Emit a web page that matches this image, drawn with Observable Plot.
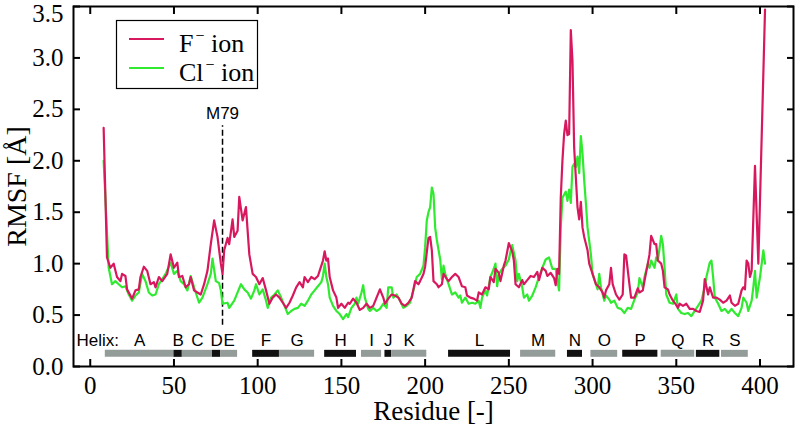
<!DOCTYPE html>
<html>
<head>
<meta charset="utf-8">
<script src="https://cdn.jsdelivr.net/npm/d3@7"></script>
<script src="https://cdn.jsdelivr.net/npm/@observablehq/plot@0.6"></script>
<style>
  body { margin: 0; background: #fff; }
</style>
</head>
<body>
<div id="chart"></div>
<script>
// RMSF per residue, F- ion simulation
const fResidue = [8,10,12,14,16,18,19,21,22,25,27,29,30,32,34,36,38,39,41,43,46,48,50,52,53,55,57,59,60,62,64,66,68,70,72,74,76,77,78,79,80,82,83,85,86,88,89,91,93,95,97,99,
  101,103,105,107,109,111,113,115,117,119,121,123,125,127,128,130,132,134,136,137,139,140,141,142,143,145,147,148,150,152,154,155,157,159,161,163,165,167,169,171,173,175,176,178,180,182,184,186,188,190,192,194,196,197,199,200,
  202,203,204,205,207,208,210,211,213,214,216,218,220,222,224,225,227,229,231,232,234,236,238,239,241,242,244,245,247,248,250,252,253,254,256,258,259,261,263,265,267,268,270,272,273,275,277,278,279,280,
  281,282,283,284,285,286,287,288,289,290,291,292,293,294,295,297,298,300,302,304,306,307,308,310,311,312,314,316,318,319,320,322,323,325,327,328,330,331,333,334,335,337,338,339,341,342,343,345,346,348,349,351,352,354,356,358,360,362,364,366,367,369,370,372,374,376,378,380,382,383,385,387,389,390,391,392,393,394,395,397,399,403];
const fRmsf = [2.32,1.06,0.96,1.00,0.87,0.83,0.90,0.88,0.75,0.66,0.74,0.75,0.87,0.97,0.93,0.80,0.82,0.77,0.87,0.83,0.90,1.09,0.96,1.01,0.87,0.88,0.77,0.80,0.87,0.74,0.72,0.70,0.80,0.93,1.19,1.42,1.26,1.13,1.00,0.90,1.13,1.25,1.19,1.43,1.26,1.32,1.65,1.42,1.55,1.09,0.90,0.87,
  0.80,0.86,0.74,0.61,0.67,0.70,0.67,0.62,0.57,0.62,0.69,0.77,0.82,0.77,0.87,0.82,0.87,0.85,0.88,0.93,1.03,1.12,1.03,1.05,0.87,0.74,0.67,0.57,0.61,0.57,0.62,0.61,0.66,0.62,0.55,0.57,0.61,0.57,0.59,0.67,0.75,0.67,0.61,0.66,0.70,0.69,0.67,0.61,0.59,0.62,0.67,0.83,0.80,0.83,0.90,0.97,
  1.25,1.26,1.13,0.83,0.80,0.77,0.80,0.90,0.85,0.83,0.87,0.90,0.87,0.78,0.77,0.69,0.67,0.66,0.64,0.72,0.70,0.77,0.75,0.87,0.82,0.95,0.91,0.83,0.98,1.03,1.20,1.12,1.03,0.80,0.77,0.84,0.80,0.84,0.88,0.87,0.92,0.84,0.96,0.93,0.88,0.91,0.86,0.79,0.95,0.90,
  1.64,2.00,2.26,2.39,2.25,2.26,3.27,2.97,2.13,1.84,1.55,1.43,1.60,1.35,1.26,1.13,1.00,0.90,0.80,0.77,0.72,0.67,0.74,0.80,0.96,0.80,0.70,0.65,0.70,1.09,1.08,0.80,0.67,0.67,0.76,0.72,0.74,0.83,1.00,1.09,1.27,1.19,1.19,1.03,1.00,0.93,0.77,0.75,0.70,0.64,0.62,0.57,0.61,0.59,0.61,0.56,0.56,0.54,0.53,0.64,0.85,0.70,0.77,0.67,0.67,0.65,0.62,0.64,0.69,0.62,0.59,0.61,0.74,0.77,0.75,1.03,1.00,0.87,0.93,1.95,1.00,3.47];

// RMSF per residue, Cl- ion simulation
const clResidue = [8,11,13,15,17,19,21,23,25,27,29,31,33,35,37,39,41,43,45,48,50,52,54,56,58,60,62,65,67,70,72,73,75,77,78,79,82,83,86,88,90,92,94,96,98,99,
  101,103,105,106,108,110,112,114,116,118,120,122,124,126,128,130,132,134,136,138,139,140,141,142,143,145,147,149,151,153,154,156,158,159,160,162,163,164,166,167,169,171,173,175,177,178,180,181,183,185,187,189,191,193,195,197,199,200,
  201,202,203,204,205,206,207,209,210,211,212,214,216,218,220,221,222,224,226,228,230,232,233,234,236,237,239,241,242,243,244,246,248,250,251,252,254,255,256,258,259,261,262,264,266,268,270,272,274,276,278,279,280,
  281,282,283,284,285,286,287,288,289,290,291,292,293,294,295,296,297,299,300,302,303,304,305,307,308,310,311,313,315,317,319,321,323,325,327,328,330,331,333,334,335,337,338,339,341,342,343,344,346,348,350,351,353,355,357,359,361,363,365,367,368,370,371,372,373,375,377,379,381,383,385,387,389,390,392,393,395,396,397,398,399,400,401,402,403];
const clRmsf = [2.00,0.96,0.80,0.83,0.80,0.77,0.78,0.70,0.64,0.69,0.72,0.90,0.83,0.72,0.69,0.70,0.80,0.85,0.90,1.01,0.90,0.93,0.83,0.80,0.74,0.88,0.77,0.62,0.67,0.80,0.90,1.05,0.83,0.81,0.74,0.61,0.62,0.57,0.64,0.72,0.80,0.75,0.72,0.66,0.74,0.80,
  0.70,0.75,0.64,0.57,0.67,0.70,0.74,0.67,0.59,0.51,0.54,0.56,0.57,0.61,0.59,0.64,0.70,0.74,0.78,0.82,0.88,1.00,0.87,0.80,0.67,0.59,0.54,0.51,0.46,0.51,0.48,0.57,0.61,0.67,0.61,0.72,0.79,0.67,0.56,0.54,0.57,0.54,0.56,0.61,0.57,0.77,0.77,0.67,0.70,0.64,0.57,0.59,0.62,0.74,0.87,0.90,0.98,1.16,
  1.42,1.50,1.55,1.74,1.68,1.35,1.23,1.04,0.85,0.98,0.90,0.80,0.70,0.72,0.67,0.69,0.62,0.67,0.61,0.62,0.61,0.64,0.57,0.67,0.74,0.69,0.87,0.95,1.00,0.78,0.90,0.95,0.98,1.04,1.12,1.18,1.03,0.83,0.90,0.77,0.67,0.70,0.64,0.69,0.77,0.87,0.96,1.04,1.06,0.95,0.95,0.83,0.74,
  1.35,1.64,1.67,1.70,1.61,1.72,1.59,1.94,1.97,1.94,2.04,1.88,2.24,2.07,1.81,1.59,1.35,1.09,0.90,0.80,0.75,0.90,0.77,0.64,0.69,0.65,0.62,0.64,0.57,0.56,0.52,0.57,0.56,0.65,0.72,0.86,0.77,0.87,1.00,0.96,1.03,0.96,1.06,1.03,1.27,1.19,0.96,0.70,0.62,0.61,0.70,0.56,0.52,0.51,0.52,0.49,0.54,0.59,0.64,0.77,0.87,1.01,1.03,0.87,0.67,0.61,0.54,0.56,0.52,0.56,0.52,0.49,0.57,0.67,0.62,0.54,0.64,0.77,0.93,0.67,0.77,0.87,1.00,1.13,1.00];

// Secondary structure: helix segments (residue ranges)
const helixNames = ["A","B","C","D","E","F","G","H","I","J","K","L","M","N","O","P","Q","R","S"];
const helixStart = [9,50,55,73,78,97,113,140,162,176,180,214,257,285,299,318,341,362,377];
const helixEnd   = [50,55,73,78,88,113,134,159,174,180,201,251,278,294,315,339,361,376,393];
const helixDark  = [false,true,false,true,false,true,false,true,false,true,false,true,false,true,false,true,false,true,false];

const xTicks = [0,50,100,150,200,250,300,350,400];
const yTicks = [0,0.5,1,1.5,2,2.5,3,3.5];
const yTickLabels = ["0.0","0.5","1.0","1.5","2.0","2.5","3.0","3.5"];

const markerResidue = [79];
const markerLabel = ["M79"];

const seriesNames = ["F", "Cl"];
const seriesColors = ["#d8185e", "#2fea2f"];

const serif = "'Liberation Serif', 'Times New Roman', serif";
const sans = "'Liberation Sans', Arial, sans-serif";

const fSeries = fResidue.map((r, i) => ({residue: r, rmsf: fRmsf[i]}));
const clSeries = clResidue.map((r, i) => ({residue: r, rmsf: clRmsf[i]}));
const helices = helixNames.map((n, i) => ({name: n, start: helixStart[i], end: helixEnd[i], dark: helixDark[i]}));
const markers = markerResidue.map((r, i) => ({residue: r, label: markerLabel[i]}));

const yLabel = d => yTickLabels[yTicks.indexOf(d)];
const yTop = yTicks[yTicks.length - 1];
const tickLen = -7;

const chart = Plot.plot({
  width: 798,
  height: 426,
  marginLeft: 73,
  marginRight: 5,
  marginTop: 6,
  marginBottom: 60,
  style: {fontFamily: serif, fontSize: "25px", color: "#000", background: "#fff"},
  x: {domain: [-10, 420], label: null},
  y: {domain: [0, 3.5], label: null},
  marks: [
    // helix bars and their letters
    Plot.ruleY(helices, {x1: "start", x2: "end", y: 0.128, stroke: d => d.dark ? "#111" : "#949c9a", strokeWidth: 7}),
    Plot.text(helices, {x: d => (d.start + d.end) / 2, y: 0.255, text: "name", fontFamily: sans, fontSize: 17}),
    Plot.text(["Helix:"], {frameAnchor: "left", y: 0.255, dx: 3, textAnchor: "start", fontFamily: sans, fontSize: 17}),
    // marked residue
    Plot.ruleX(markers, {x: "residue", y1: 0.4, y2: 2.34, strokeDasharray: "6,3", strokeWidth: 1.5}),
    Plot.text(markers, {x: "residue", y: 2.34, dy: -12, text: "label", fontFamily: sans, fontSize: 17}),
    // RMSF curves
    Plot.line(clSeries, {x: "residue", y: "rmsf", stroke: seriesColors[1], strokeWidth: 2.2}),
    Plot.line(fSeries, {x: "residue", y: "rmsf", stroke: seriesColors[0], strokeWidth: 2.2}),
    Plot.frame({strokeWidth: 2}),
    // axes: labels outside, tick marks pointing inward on all four sides
    Plot.axisX(xTicks, {anchor: "bottom", tickSize: 0, tickPadding: 10, fontSize: 25}),
    Plot.axisX(xTicks, {anchor: "bottom", tickSize: tickLen, tickFormat: () => "", strokeWidth: 2}),
    Plot.axisX(xTicks, {anchor: "top", tickSize: tickLen, tickFormat: () => "", strokeWidth: 2}),
    Plot.axisY(yTicks.filter(d => d < yTop), {anchor: "left", tickSize: 0, tickPadding: 10, fontSize: 25, tickFormat: yLabel}),
    Plot.axisY([yTop], {anchor: "left", tickSize: 0, tickPadding: 10, fontSize: 25, dy: 7, tickFormat: yLabel}),
    Plot.axisY(yTicks, {anchor: "left", tickSize: tickLen, tickFormat: () => "", strokeWidth: 2}),
    Plot.axisY(yTicks, {anchor: "right", tickSize: tickLen, tickFormat: () => "", strokeWidth: 2}),
    // axis titles
    Plot.text(["Residue [-]"], {frameAnchor: "bottom", dy: 45, lineAnchor: "middle", textAnchor: "middle", fontSize: 27}),
    Plot.text(["RMSF [Å]"], {frameAnchor: "left", dx: -56, rotate: -90, textAnchor: "middle", lineAnchor: "middle", fontSize: 28})
  ]
});

document.getElementById("chart").appendChild(chart);

// legend box in the upper-left corner of the plot
const svg = d3.select(chart);
const legend = svg.append("g")
  .attr("font-family", serif)
  .attr("font-size", 26)
  .attr("text-anchor", "start");
legend.append("rect")
  .attr("x", 116.5).attr("y", 20.5).attr("width", 141).attr("height", 68)
  .attr("fill", "#fff").attr("stroke", "#000").attr("stroke-width", 1.2);
seriesNames.forEach((name, i) => {
  const cy = 39 + i * 29;
  legend.append("line")
    .attr("x1", 129).attr("x2", 164).attr("y1", cy).attr("y2", cy)
    .attr("stroke", seriesColors[i]).attr("stroke-width", 2.2);
  const t = legend.append("text").attr("x", 179).attr("y", cy + 13);
  t.append("tspan").text(name);
  t.append("tspan").attr("dx", 2).attr("dy", -11).attr("font-size", 16).text("\u2212");
  t.append("tspan").attr("dy", 11).text(" ion");
});
</script>
</body>
</html>
